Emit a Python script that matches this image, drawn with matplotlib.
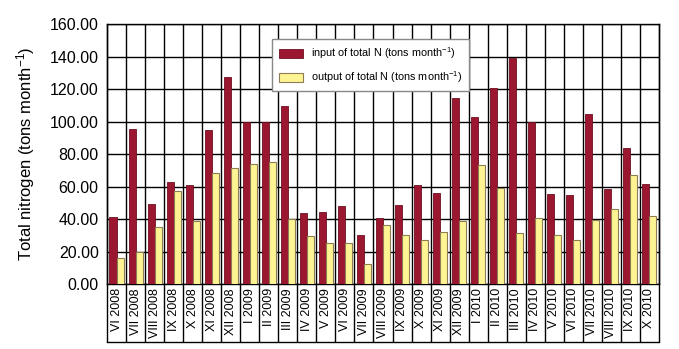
import matplotlib.pyplot as plt
import numpy as np

plt.rcParams['font.family'] = ['Liberation Sans', 'DejaVu Sans']
plt.rcParams['mathtext.fontset'] = 'custom'
plt.rcParams['mathtext.rm'] = 'Liberation Sans'
plt.rcParams['mathtext.default'] = 'regular'

months = ['VI 2008', 'VII 2008', 'VIII 2008', 'IX 2008', 'X 2008', 'XI 2008', 'XII 2008',
          'I 2009', 'II 2009', 'III 2009', 'IV 2009', 'V 2009', 'VI 2009', 'VII 2009',
          'VIII 2009', 'IX 2009', 'X 2009', 'XI 2009', 'XII 2009',
          'I 2010', 'II 2010', 'III 2010', 'IV 2010', 'V 2010', 'VI 2010', 'VII 2010',
          'VIII 2010', 'IX 2010', 'X 2010']
n_input = [41.3, 95.1, 49.0, 62.5, 61.2, 94.5, 127.5,
           99.6, 99.6, 109.7, 43.4, 44.5, 47.8, 30.0,
           40.6, 48.7, 60.8, 56.3, 114.6,
           102.9, 120.9, 138.9, 99.6, 55.7, 54.8, 104.8,
           58.7, 83.9, 61.8]
n_output = [15.8, 19.4, 35.2, 57.5, 38.5, 68.3, 71.4,
            73.9, 75.1, 40.1, 29.3, 25.0, 25.5, 12.1,
            36.5, 30.3, 26.8, 32.1, 38.5,
            73.5, 58.9, 31.1, 40.9, 30.3, 27.2, 39.3,
            46.2, 67.3, 42.1]

red = '#9b1730'
yellow = '#fff493'

fig = plt.figure(figsize=(6.79, 3.49), dpi=100)
ax = fig.add_axes([0.1576, 0.1862, 0.8129, 0.7450])

x = np.arange(len(months))
w = 0.37
ax.bar(x - w / 2, n_input, w, color=red, edgecolor='#6e1020', linewidth=0.6,
       label='input of total N (tons month$^{-1}$)', zorder=3)
ax.bar(x + w / 2, n_output, w, color=yellow, edgecolor='#8c7d55', linewidth=0.8,
       label='output of total N (tons month$^{-1}$)', zorder=3)

ax.set_xlim(-0.5, len(months) - 0.5)
ax.set_ylim(0, 160)
ax.set_yticks(np.arange(0, 161, 20))
ax.set_yticklabels(['%.2f' % v for v in np.arange(0, 161, 20)], fontsize=11.5)
ax.yaxis.grid(True, color='black', linewidth=1.0, zorder=0)
ax.set_axisbelow(True)

# category separators running down through the label cells
bounds = np.arange(len(months) + 1) - 0.5
ax.vlines(bounds, -0.223, 1, transform=ax.get_xaxis_transform(),
          colors='black', linewidth=1.0, clip_on=False, zorder=1)
ax.plot([-0.5, len(months) - 0.5], [-0.223, -0.223], transform=ax.get_xaxis_transform(),
        color='black', linewidth=1.0, clip_on=False)

ax.set_xticks(x)
ax.set_xticklabels(months, rotation=90, fontsize=9)
ax.tick_params(axis='both', length=0)
ax.tick_params(axis='x', pad=3)
ax.tick_params(axis='y', pad=6)
for s in ax.spines.values():
    s.set_linewidth(1.0)

ax.set_ylabel('Total nitrogen (tons month$^{-1}$)', fontsize=12, labelpad=9)

leg = ax.legend(loc='upper left', bbox_to_anchor=(0.29, 0.965), fontsize=7.8,
                fancybox=False, framealpha=1, edgecolor='#888888',
                handlelength=2.2, handleheight=0.9, borderpad=0.6, labelspacing=0.75)
leg.get_frame().set_linewidth(1.0)
leg.set_zorder(5)

fig.savefig('out.png', dpi=100)
